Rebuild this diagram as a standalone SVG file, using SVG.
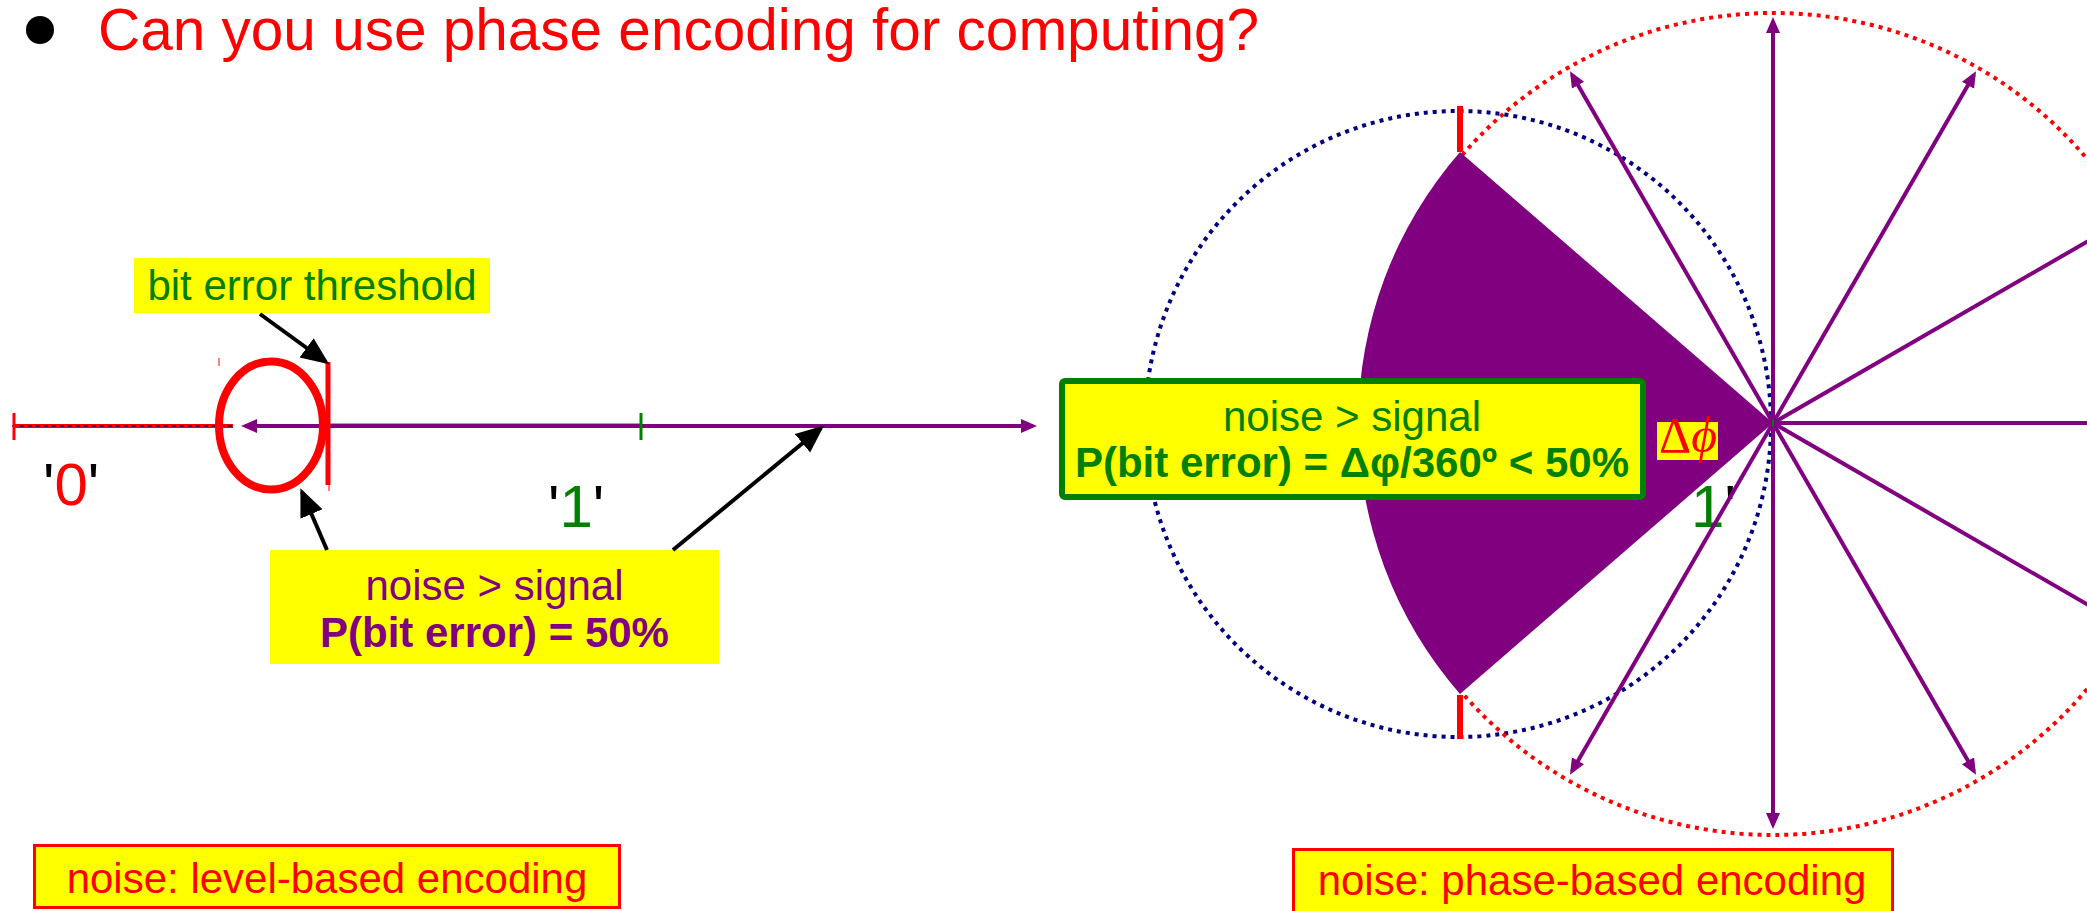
<svg xmlns="http://www.w3.org/2000/svg" width="2087" height="911" viewBox="0 0 2087 911">
<style>
text{font-family:"Liberation Sans",Arial,sans-serif}
.t42{font-size:42px}
.b{font-weight:bold}
.yel{fill:#ffff00}
.purp{stroke:#800080;stroke-width:4;fill:none}
.blk{stroke:#000;stroke-width:4;fill:none}
.dig{font-size:60px}
.serif{font-family:"Liberation Serif","Times New Roman","DejaVu Serif",serif}
</style>
<defs>
<marker id="pa" markerUnits="userSpaceOnUse" markerWidth="20" markerHeight="16" refX="12" refY="7" orient="auto-start-reverse"><path d="M0,0 L16,7 L0,14 z" fill="#800080"/></marker>
<marker id="ba" markerUnits="userSpaceOnUse" markerWidth="30" markerHeight="26" refX="24" refY="12" orient="auto"><path d="M0,0 L28,12 L0,24 z" fill="#000"/></marker>
</defs>
<rect width="2087" height="911" fill="#fff"/>

<g id="title">
<circle cx="40" cy="30" r="14" fill="#000"/>
<text x="98" y="50" font-size="58.5" fill="#ff0000">Can you use phase encoding for computing?</text>
</g>

<g id="level-axis">
<line x1="14" y1="426" x2="233" y2="426" stroke="#ff0000" stroke-width="4"/>
<line x1="12" y1="426" x2="232" y2="426" stroke="#000080" stroke-width="1.5" stroke-dasharray="4 4"/>
<line x1="14" y1="413" x2="14" y2="440" stroke="#ff0000" stroke-width="3"/>
<line x1="328" y1="424.5" x2="642" y2="424.5" stroke="#008000" stroke-width="2"/>
<line x1="245" y1="426" x2="1033" y2="426" class="purp" marker-start="url(#pa)" marker-end="url(#pa)"/>
<line x1="641" y1="413" x2="641" y2="440" stroke="#008000" stroke-width="3"/>
<ellipse cx="271" cy="425.5" rx="52" ry="64" fill="none" stroke="#ff0000" stroke-width="8"/>
<line x1="328" y1="362" x2="328" y2="485" stroke="#ff0000" stroke-width="5"/>
<line x1="219" y1="358" x2="219" y2="366" stroke="#ff0000" stroke-width="1"/>
<line x1="329" y1="484" x2="329" y2="491" stroke="#ff0000" stroke-width="1"/>
<text x="43" y="505" class="dig"><tspan fill="#000">'</tspan><tspan fill="#ff0000">0</tspan><tspan fill="#000">'</tspan></text>
<text x="548" y="527" class="dig"><tspan fill="#000">'</tspan><tspan fill="#008000">1</tspan><tspan fill="#000">'</tspan></text>
</g>

<g id="threshold-label">
<rect x="134" y="258" width="356" height="55" class="yel"/>
<text x="312" y="300" class="t42" fill="#008000" text-anchor="middle">bit error threshold</text>
</g>

<g id="level-noise-label">
<rect x="270" y="550" width="449" height="114" class="yel"/>
<text x="494.5" y="600" class="t42" fill="#800080" text-anchor="middle">noise &gt; signal</text>
<text x="494.5" y="647" class="t42 b" fill="#800080" text-anchor="middle">P(bit error) = 50%</text>
</g>

<g id="connectors">
<line x1="260" y1="314" x2="326" y2="362" class="blk" marker-end="url(#ba)"/>
<line x1="327" y1="550" x2="302" y2="492" class="blk" marker-end="url(#ba)"/>
<line x1="673" y1="550" x2="821" y2="428" class="blk" marker-end="url(#ba)"/>
</g>

<g id="phase-diagram">
<circle cx="1458" cy="424" r="313" fill="none" stroke="#000080" stroke-width="4" stroke-dasharray="4 5"/>
<circle cx="1773" cy="424" r="411" fill="none" stroke="#ff0000" stroke-width="4" stroke-dasharray="4 5"/>
<text x="1691" y="527" class="dig"><tspan fill="#008000">1</tspan><tspan fill="#000">'</tspan></text>
<path d="M1773,423 L1460,152 A412,412 0 0 0 1460,694 Z" fill="#800080"/>
<line x1="1460" y1="106" x2="1460" y2="152" stroke="#ff0000" stroke-width="6"/>
<line x1="1460" y1="695" x2="1460" y2="739" stroke="#ff0000" stroke-width="6"/>
<line x1="1773" y1="423" x2="1773" y2="21" class="purp" marker-end="url(#pa)"/>
<line x1="1773" y1="423" x2="1974" y2="74.8" class="purp" marker-end="url(#pa)"/>
<line x1="1773" y1="423" x2="1572" y2="74.8" class="purp" marker-end="url(#pa)"/>
<line x1="1773" y1="423" x2="1572" y2="771.2" class="purp" marker-end="url(#pa)"/>
<line x1="1773" y1="423" x2="1773" y2="825" class="purp" marker-end="url(#pa)"/>
<line x1="1773" y1="423" x2="1974" y2="771.2" class="purp" marker-end="url(#pa)"/>
<line x1="1773" y1="423" x2="2154" y2="203" class="purp"/>
<line x1="1773" y1="423" x2="2100" y2="423" class="purp"/>
<line x1="1773" y1="423" x2="2154" y2="643" class="purp"/>
<line x1="1773" y1="420" x2="1773" y2="426" stroke="#008000" stroke-width="2"/>
</g>

<g id="dphi-label">
<rect x="1657" y="422" width="61" height="38" class="yel"/>
<text x="1659" y="452" font-size="50" fill="#ff0000" class="serif" textLength="58" lengthAdjust="spacingAndGlyphs">Δ<tspan font-style="italic">ϕ</tspan></text>
</g>

<g id="phase-noise-label">
<rect x="1062" y="381" width="581" height="116" rx="3" class="yel" stroke="#008000" stroke-width="6"/>
<text x="1352" y="431" class="t42" fill="#008000" text-anchor="middle">noise &gt; signal</text>
<text x="1352" y="477" class="t42 b" fill="#008000" text-anchor="middle">P(bit error) = Δφ/360º &lt; 50%</text>
</g>

<g id="level-caption">
<rect x="34.5" y="845.5" width="585" height="62" class="yel" stroke="#ff0000" stroke-width="3"/>
<text x="327" y="893" class="t42" fill="#ff0000" text-anchor="middle">noise: level-based encoding</text>
</g>

<g id="phase-caption">
<rect x="1293.5" y="849.5" width="599" height="70" class="yel" stroke="#ff0000" stroke-width="3"/>
<text x="1592" y="895" class="t42" fill="#ff0000" text-anchor="middle">noise: phase-based encoding</text>
</g>
</svg>
